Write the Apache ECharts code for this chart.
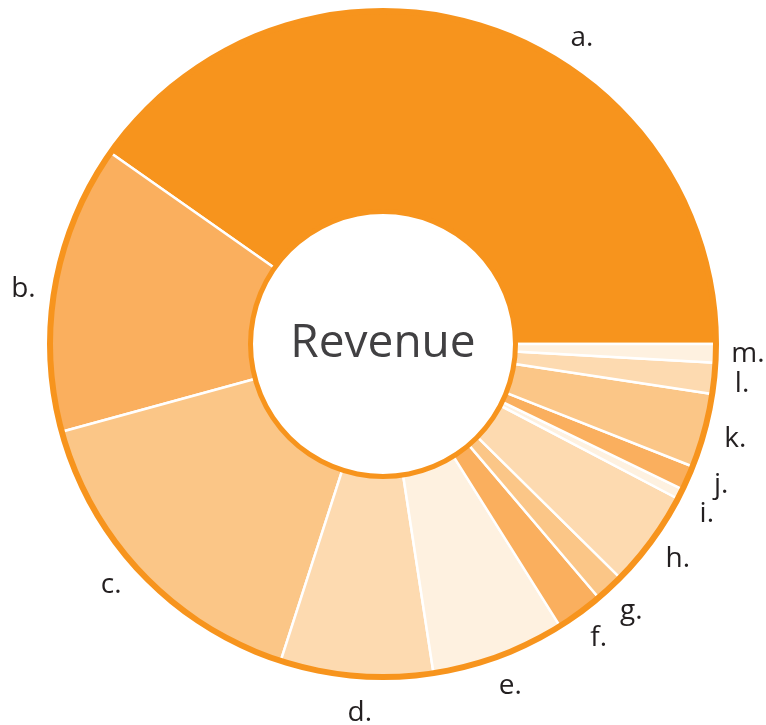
<!DOCTYPE html>
<html>
<head>
<meta charset="utf-8">
<title>Revenue</title>
<script src="https://cdn.jsdelivr.net/npm/echarts@6/dist/echarts.min.js"></script>
<style>
  html, body { margin: 0; padding: 0; background: #fff; }
  #chart { width: 766px; height: 725px; }
</style>
</head>
<body>
<div id="chart"></div>
<script>
// slices, counter-clockwise from 3 o'clock
var categories = ['a.', 'b.', 'c.', 'd.', 'e.', 'f.', 'g.', 'h.', 'i.', 'j.', 'k.', 'l.', 'm.'];
var revenueShare = [40.3, 14.0, 15.8, 7.4, 6.5, 2.3, 1.4, 4.7, 0.5, 1.2, 3.6, 1.5, 0.9];
var sliceColors = ['#F7941D', '#FAAF5E', '#FBC687', '#FDDAB0', '#FEF1E0',
                   '#FAAF5E', '#FBC687', '#FDDAB0', '#FEF1E0',
                   '#FAAF5E', '#FBC687', '#FDDAB0', '#FEF1E0'];
var centerTitle = 'Revenue';

var orange = '#F7941D';
var center = [383, 344];
var labelRadius = 365;
var font = '"Open Sans", "Noto Sans", sans-serif';

var total = revenueShare.reduce(function (s, v) { return s + v; }, 0);

var sliceData = categories.map(function (name, i) {
  return { name: name, value: revenueShare[i], itemStyle: { color: sliceColors[i] } };
});

// a few labels were nudged by hand in the original
var labelNudge = {
  'a.': [89, 42], 'b.': [0, 8], 'c.': [-8, -11], 'd.': [6, 5],
  'i.': [-2, 5], 'j.': [4, -6], 'l.': [-4, 2]
};

// label anchors: middle of each slice, on a polar grid that shares the pie's centre
var cum = 0;
var labelData = categories.map(function (name, i) {
  var mid = cum + revenueShare[i] / 2;
  cum += revenueShare[i];
  var item = { name: name, value: [labelRadius, mid] };
  if (labelNudge[name]) item.label = { offset: labelNudge[name] };
  return item;
});

var chartDom = document.getElementById('chart');
var chart = echarts.init(chartDom);

var option = {
  animation: false,
  polar: { center: center, radius: [0, 400] },
  radiusAxis: {
    type: 'value', min: 0, max: 400, show: false,
    axisLine: { show: false }, splitLine: { show: false }
  },
  angleAxis: {
    type: 'value', min: 0, max: total, startAngle: 0, clockwise: false, show: false,
    axisLine: { show: false }, splitLine: { show: false }
  },
  series: [
    {
      name: 'Revenue',
      type: 'pie',
      center: center,
      radius: [132, 333],
      startAngle: 0,
      clockwise: false,
      avoidLabelOverlap: false,
      silent: true,
      label: { show: false },
      labelLine: { show: false },
      itemStyle: { borderColor: '#fff', borderWidth: 2.5 },
      emphasis: { disabled: true },
      data: sliceData
    },
    {
      name: 'outer ring',
      type: 'pie',
      center: center,
      radius: [330, 336],
      silent: true,
      label: { show: false },
      labelLine: { show: false },
      itemStyle: { color: orange },
      emphasis: { disabled: true },
      data: [{ name: 'ring', value: 1 }]
    },
    {
      name: 'inner ring',
      type: 'pie',
      center: center,
      radius: [130, 135],
      silent: true,
      label: {
        show: true,
        position: 'center',
        formatter: centerTitle,
        color: '#414042',
        fontSize: 46,
        fontFamily: font
      },
      labelLine: { show: false },
      itemStyle: { color: orange },
      emphasis: { disabled: true },
      data: [{ name: 'ring', value: 1 }]
    },
    {
      name: 'labels',
      type: 'scatter',
      coordinateSystem: 'polar',
      symbolSize: 1,
      silent: true,
      itemStyle: { color: 'rgba(0,0,0,0)', opacity: 1 },
      label: {
        show: true,
        position: 'inside',
        formatter: '{b}',
        color: '#231f20',
        fontSize: 28,
        fontFamily: font
      },
      emphasis: { disabled: true },
      data: labelData
    }
  ]
};

chart.setOption(option);
</script>
</body>
</html>
